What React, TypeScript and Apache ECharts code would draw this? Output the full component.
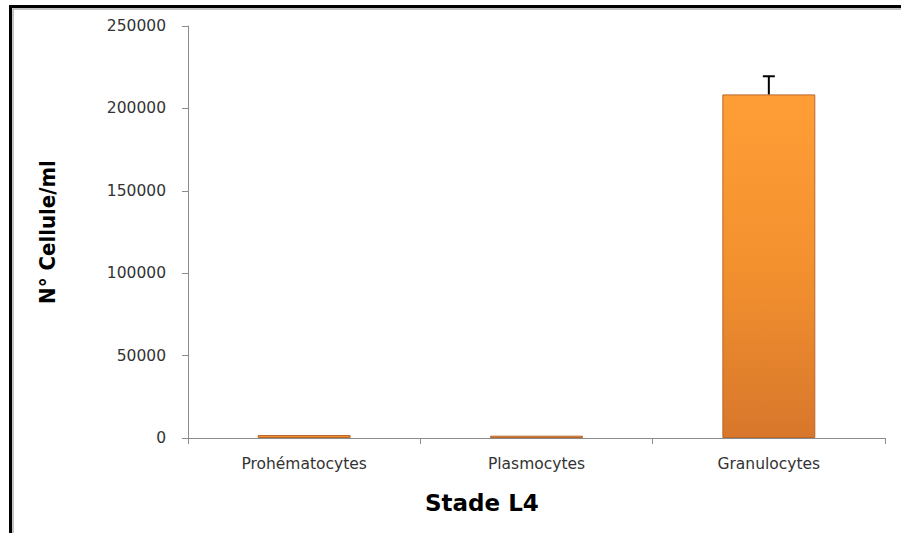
import React, { useEffect, useRef } from "react";
import * as echarts from "echarts";

const categories = ["Prohématocytes", "Plasmocytes", "Granulocytes"];
const values = [1800, 1400, 208500];
const errors = [0, 0, 11000];
const yTicks = [0, 50000, 100000, 150000, 200000, 250000];

export default function App() {
  const ref = useRef<HTMLDivElement>(null);
  useEffect(() => {
    document.body.style.margin = "0";
    const chart = echarts.init(ref.current!, null, { renderer: "svg" });
    const labelFont = "'DejaVu Sans', Verdana, sans-serif";
    chart.setOption({
      animation: false,
      backgroundColor: "#ffffff",
      grid: { left: 188, top: 26, right: 16, bottom: 95, containLabel: false },
      xAxis: {
        type: "category",
        data: categories,
        axisLine: { show: true, lineStyle: { color: "#8c8c8c", width: 1 } },
        axisTick: { show: true, length: 6, lineStyle: { color: "#8c8c8c" }, alignWithLabel: false },
        axisLabel: { margin: 18, fontSize: 15.5, color: "#333333", fontFamily: labelFont },
      },
      yAxis: {
        type: "value",
        min: 0,
        max: yTicks[yTicks.length - 1],
        interval: 50000,
        name: "N° Cellule/ml",
        nameLocation: "middle",
        nameRotate: 90,
        nameGap: 130,
        nameTextStyle: {
          fontSize: 22,
          fontWeight: "bold",
          color: "#000000",
          fontFamily: "'Liberation Sans Narrow', 'DejaVu Sans Condensed', 'Liberation Sans', sans-serif",
        },
        axisLine: { show: true, lineStyle: { color: "#8c8c8c", width: 1 } },
        axisTick: { show: true, length: 6, inside: false, lineStyle: { color: "#8c8c8c" } },
        axisLabel: {
          margin: 22,
          fontSize: 15.5,
          color: "#333333",
          fontFamily: labelFont,
          formatter: (v: number) => String(v),
        },
        splitLine: { show: false },
      },
      graphic: [
        {
          type: "rect",
          shape: { x: 10.5, y: 6.5, width: 1000, height: 1000 },
          style: { fill: "none", stroke: "#000000", lineWidth: 3 },
          silent: true,
        },
        {
          type: "rect",
          shape: { x: 13, y: 9, width: 1000, height: 1000 },
          style: { fill: "none", stroke: "#b0b0b0", lineWidth: 1.5 },
          silent: true,
        },
        {
          type: "text",
          left: 425,
          top: 491,
          style: {
            text: "Stade L4",
            fontSize: 23,
            fontWeight: "bold",
            fill: "#000000",
            fontFamily: "'DejaVu Sans', sans-serif",
          },
        },
      ],
      series: [
        {
          type: "bar",
          data: values,
          barWidth: "40%",
          itemStyle: {
            color: new echarts.graphic.LinearGradient(0, 0, 0, 1, [
              { offset: 0, color: "#ff9d36" },
              { offset: 0.5, color: "#f3912f" },
              { offset: 1, color: "#d8772b" },
            ]),
            borderColor: "#b8662a",
            borderWidth: 1,
          },
        },
        {
          type: "custom",
          data: values.map((v, i) => [i, v, errors[i]]),
          renderItem: (params: any, api: any) => {
            const idx = api.value(0);
            const v = api.value(1);
            const e = api.value(2);
            if (!e) return null;
            const p0 = api.coord([idx, v]);
            const p1 = api.coord([idx, v + e]);
            return {
              type: "group",
              children: [
                {
                  type: "line",
                  shape: { x1: p0[0], y1: p0[1], x2: p1[0], y2: p1[1] },
                  style: { stroke: "#000000", lineWidth: 2 },
                },
                {
                  type: "line",
                  shape: { x1: p1[0] - 6, y1: p1[1], x2: p1[0] + 6, y2: p1[1] },
                  style: { stroke: "#000000", lineWidth: 2 },
                },
              ],
            };
          },
          z: 5,
        },
      ],
    });
    return () => chart.dispose();
  }, []);
  return (
    <div
      ref={ref}
      style={{ position: "absolute", left: 0, top: 0, width: 901, height: 533 }}
    />
  );
}
